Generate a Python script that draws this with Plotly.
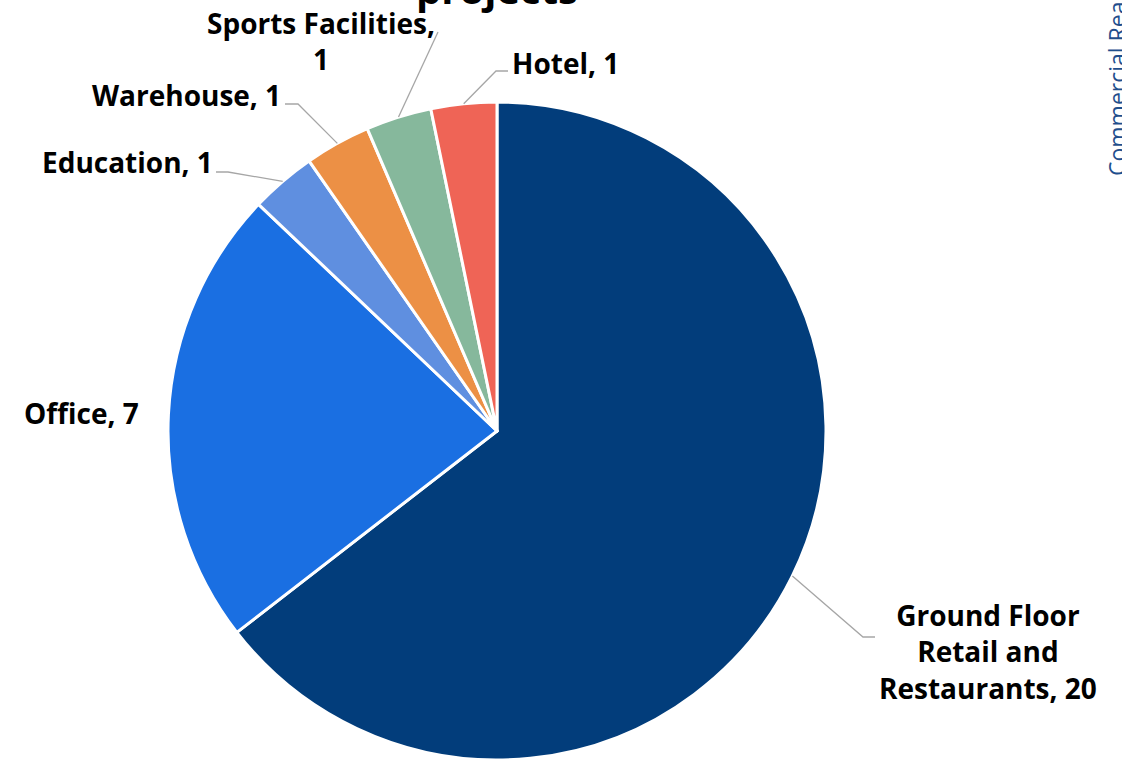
import numpy as np
import plotly.graph_objects as go

# ── Data ───────────────────────────────────────────────────────────────────────
CATEGORIES = ['Ground Floor Retail and Restaurants', 'Office', 'Education',
              'Warehouse', 'Sports Facilities', 'Hotel']
PROJECTS   = [20, 7, 1, 1, 1, 1]
LABEL_TEXT = ['Ground Floor<br>Retail and<br>Restaurants, 20', 'Office, 7', 'Education, 1',
              'Warehouse, 1', 'Sports Facilities,<br>1', 'Hotel, 1']
COLORS     = ['#023d7b', '#1a6fe2', '#5f8fe0', '#ec9045', '#86b89c', '#ef6456']

# ── Layout constants (screen pixels) ───────────────────────────────────────────
W, H = 1122, 760
CX, CY, R = 497, 431, 329
FONT = 'Open Sans, Noto Sans, sans-serif'

# label anchor (x, y, xanchor) and leader line elbow points
LABEL_POS = [(988, 651, 'center'), (141, 413, 'right'), (215, 162, 'right'),
             (283, 95, 'right'), (321, 41, 'center'), (510, 63, 'left')]
LEADERS   = [[(863, 637), (875, 637)], None, [(228, 172), (216, 172)],
             [(298, 104), (285, 104)], [(438, 32)], [(496, 71), (508, 71)]]


def px(x, y):
    return x / W, 1 - y / H


fig = go.Figure(go.Pie(
    labels=CATEGORIES, values=PROJECTS,
    sort=False, direction='clockwise', rotation=0,
    marker=dict(colors=COLORS, line=dict(color='white', width=3)),
    textinfo='none', showlegend=False,
    domain=dict(x=[(CX - R) / W, (CX + R) / W],
                y=[max(0, 1 - (CY + R) / H), 1 - (CY - R) / H]),
))

# labels + leader lines
total = sum(PROJECTS)
cum = np.cumsum([0] + PROJECTS)
for i, txt in enumerate(LABEL_TEXT):
    lx, ly, anchor = LABEL_POS[i]
    x, y = px(lx, ly)
    fig.add_annotation(x=x, y=y, xref='paper', yref='paper', text=f'<b>{txt}</b>',
                       showarrow=False, xanchor=anchor, yanchor='middle', align='center',
                       font=dict(family=FONT, size=28, color='#000000'))
    if LEADERS[i] is None:
        continue
    theta = 2 * np.pi * (cum[i] + PROJECTS[i] / 2) / total
    pts = [(CX + R * np.sin(theta), CY - R * np.cos(theta))] + LEADERS[i]
    path = 'M ' + ' L '.join(f'{px(a, b)[0]:.5f},{px(a, b)[1]:.5f}' for a, b in pts)
    fig.add_shape(type='path', path=path, xref='paper', yref='paper',
                  line=dict(color='#a6a6a6', width=1.3))

# title (cut off at top) and side text
tx, ty = px(497, 18)
fig.add_annotation(x=tx, y=ty, xref='paper', yref='paper',
                   text='<b>projects</b>',
                   showarrow=False, xanchor='center', yanchor='bottom',
                   font=dict(family=FONT, size=40, color='#000000'))
sx, sy = px(1117, 178)
fig.add_annotation(x=sx, y=sy, xref='paper', yref='paper',
                   text='Commercial Real Estate', textangle=-90,
                   showarrow=False, xanchor='center', yanchor='bottom',
                   font=dict(family=FONT, size=23, color='#1f4e8c'))

fig.update_layout(
    width=W, height=H,
    paper_bgcolor='white', plot_bgcolor='white',
    margin=dict(t=0, b=0, l=0, r=0),
)
fig.write_html('out.html', config={'displayModeBar': False},
               post_script="document.body.style.margin='0';document.body.style.overflow='hidden';")
